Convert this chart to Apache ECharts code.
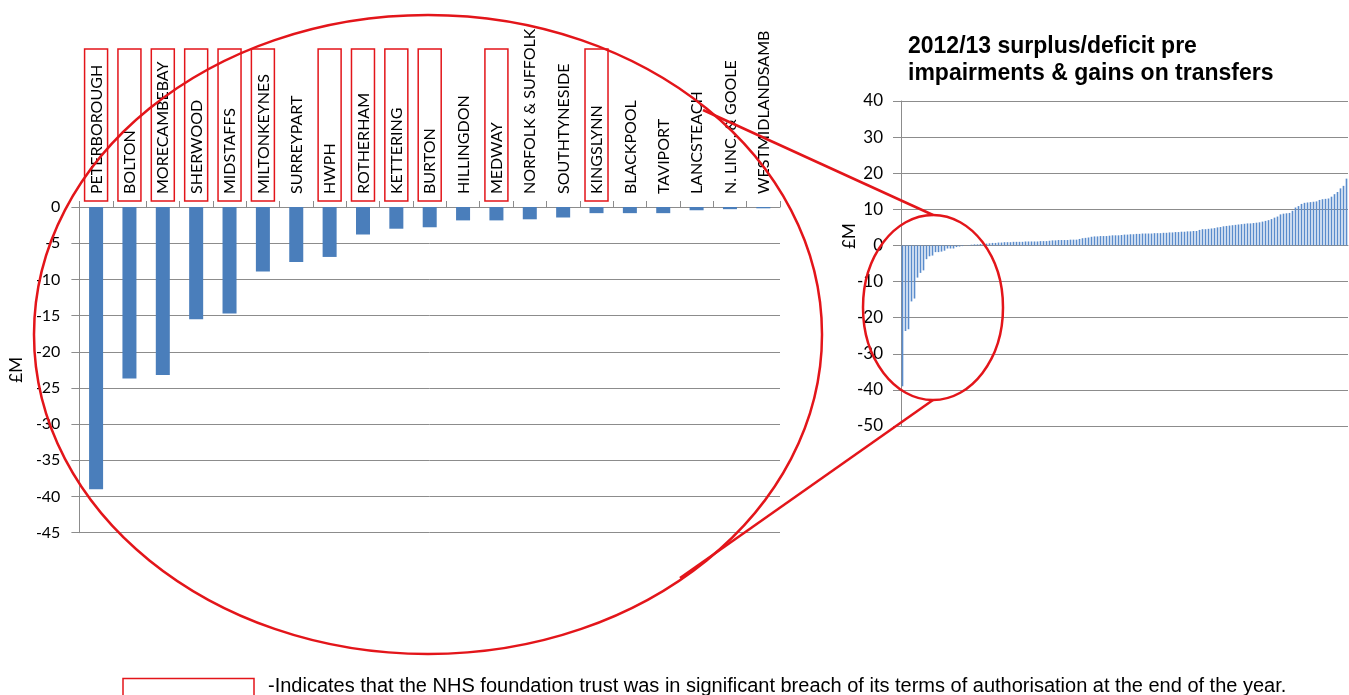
<!DOCTYPE html>
<html>
<head>
<meta charset="utf-8">
<script src="https://cdn.jsdelivr.net/npm/echarts@6/dist/echarts.min.js"></script>
<style>
html,body{margin:0;padding:0;background:#fff;}
#chart{width:1349px;height:695px;}
</style>
</head>
<body>
<div id="chart"></div>
<script>
// Left zoomed chart: trusts in deficit (£M)
var trusts = ['PETERBOROUGH','BOLTON','MORECAMBEBAY','SHERWOOD','MIDSTAFFS','MILTONKEYNES','SURREYPART','HWPH','ROTHERHAM','KETTERING','BURTON','HILLINGDON','MEDWAY','NORFOLK & SUFFOLK','SOUTHTYNESIDE','KINGSLYNN','BLACKPOOL','TAVIPORT','LANCSTEACH','N. LINC. & GOOLE','WESTMIDLANDSAMB'];
var deficits = [-39.0,-23.7,-23.2,-15.5,-14.7,-8.9,-7.6,-6.9,-3.8,-3.0,-2.8,-1.85,-1.85,-1.7,-1.45,-0.85,-0.85,-0.85,-0.45,-0.3,-0.18];
var breach = [true,true,true,true,true,true,false,true,true,true,true,false,true,false,false,true,false,false,false,false,false];
// Right chart: remaining trusts (break-even and surpluses, £M)
var breakEven = [0];
var surpluses = [0.1,0.2,0.3,0.3,0.4,0.5,0.5,
  0.6,0.7,0.7,0.8,0.8,0.9,0.9,0.9,
  1.0,1.0,1.0,1.0,1.1,1.1,1.1,1.1,1.1,1.2,1.2,1.2,1.3,
  1.4,1.4,1.5,1.5,1.5,1.5,1.6,1.6,1.6,
  1.8,2.0,2.1,2.2,
  2.4,2.5,2.5,2.6,2.6,2.6,
  2.7,2.8,2.8,2.8,2.9,
  3.0,3.0,3.1,3.1,3.2,3.2,3.3,3.3,3.3,3.3,3.4,3.4,3.4,3.5,
  3.5,3.6,3.6,3.7,3.7,3.8,3.8,3.9,3.9,4.0,4.0,
  4.3,4.5,4.5,4.6,4.7,4.8,5.0,
  5.1,5.3,5.4,5.5,5.6,5.7,
  5.8,5.9,6.0,6.1,6.1,6.2,6.3,6.4,6.6,
  6.8,7.0,7.3,7.7,
  8.0,8.6,8.8,8.9,9.0,
  9.6,10.5,
  10.9,11.5,11.8,11.9,
  12.0,12.1,12.2,12.6,
  12.8,12.9,13.0,
  13.5,14.2,14.8,
  15.8,16.5,
  18.5];
var leftTicks = [0,-5,-10,-15,-20,-25,-30,-35,-40,-45];
var rightTicks = [40,30,20,10,0,-10,-20,-30,-40,-50];
var titleText = '2012/13 surplus/deficit pre\nimpairments & gains on transfers';
var noteText = '-Indicates that the NHS foundation trust was in significant breach of its terms of authorisation at the end of the year.';

var allValues = deficits.concat(breakEven, surpluses);
var allCats = allValues.map(function(v, i){ return 'T' + (i + 1); });

var RED = '#e3151a';
var GRID = '#8c8c8c';
var BLUE = '#4a7ebb';
var labelFont = 'Lato, "Open Sans", sans-serif';

var chart = echarts.init(document.getElementById('chart'), null, {renderer:'canvas'});
chart.setOption({
  animation: false,
  backgroundColor: '#fff',
  title: {
    text: titleText,
    left: 903, top: 28,
    textStyle: {fontFamily:'"Liberation Sans", Arial, sans-serif', fontWeight:'bold', fontSize:23, lineHeight:27, color:'#000'}
  },
  grid: [
    {left:76, top:207, width:704, height:325.7},
    {left:901, top:101, width:447, height:325}
  ],
  xAxis: [
    {
      type:'category', gridIndex:0, position:'top', data: trusts,
      axisLine:{show:true, lineStyle:{color:GRID, width:1}},
      axisTick:{show:true, length:6, lineStyle:{color:GRID}},
      axisLabel:{
        interval:0, rotate:90, margin:6,
        formatter: function(v, i){ return (breach[i] ? '{b|' : '{n|') + v + '}'; },
        rich:{
          b:{fontFamily:labelFont, fontSize:16, color:'#000', lineHeight:16, width:140, padding:[4,5,3,7], borderColor:RED, borderWidth:1.5},
          n:{fontFamily:labelFont, fontSize:16, color:'#000', lineHeight:16, padding:[4,5,3,7]}
        }
      }
    },
    {
      type:'category', gridIndex:1, data: allCats,
      axisLine:{show:true, onZero:true, lineStyle:{color:GRID}},
      axisTick:{show:false}, axisLabel:{show:false}
    }
  ],
  yAxis: [
    {
      type:'value', gridIndex:0, min:-45, max:0, interval:5,
      name:'£M', nameLocation:'middle', nameGap:29,
      nameTextStyle:{fontFamily:labelFont, fontSize:17, color:'#000'},
      axisLine:{show:true, lineStyle:{color:GRID}},
      axisTick:{show:true, length:8, lineStyle:{color:GRID}},
      axisLabel:{fontFamily:labelFont, fontSize:16, color:'#000', margin:19,
        formatter:function(v){ return leftTicks.indexOf(v) >= 0 ? String(v) : ''; }},
      splitLine:{show:true, lineStyle:{color:GRID, width:1}}
    },
    {
      type:'value', gridIndex:1, min:-50, max:40, interval:10,
      axisLine:{show:true, lineStyle:{color:GRID}},
      axisTick:{show:true, length:8, lineStyle:{color:GRID}},
      axisLabel:{fontFamily:labelFont, fontSize:17, color:'#000', margin:18,
        formatter:function(v){ return rightTicks.indexOf(v) >= 0 ? String(v) : ''; }},
      splitLine:{show:true, lineStyle:{color:GRID, width:1}}
    }
  ],
  series: [
    {type:'bar', xAxisIndex:0, yAxisIndex:0, data:deficits, barWidth:'42%', itemStyle:{color:BLUE}},
    {type:'bar', xAxisIndex:1, yAxisIndex:1, data:allValues, barWidth:'55%', itemStyle:{color:'#5a8ccc'}}
  ],
  graphic: [
    {type:'ellipse', z:100, shape:{cx:428, cy:334.5, rx:394, ry:319.5}, style:{fill:'none', stroke:RED, lineWidth:2.5}},
    {type:'ellipse', z:100, shape:{cx:933, cy:307.5, rx:70, ry:92.5}, style:{fill:'none', stroke:RED, lineWidth:2.5}},
    {type:'line', z:100, shape:{x1:703, y1:110, x2:933, y2:215}, style:{stroke:RED, lineWidth:2.5}},
    {type:'line', z:100, shape:{x1:680, y1:578, x2:933, y2:400}, style:{stroke:RED, lineWidth:2.5}},
    {type:'text', z:100, x:850, y:236, rotation:Math.PI/2,
      style:{text:'£M', fontFamily:labelFont, fontSize:17, fill:'#000', align:'center', verticalAlign:'middle'}},
    {type:'rect', z:100, shape:{x:123, y:678.5, width:131, height:30}, style:{fill:'none', stroke:RED, lineWidth:1.5}},
    {type:'text', z:100, x:268, y:686,
      style:{text:noteText, fontFamily:'"Liberation Sans", Arial, sans-serif', fontSize:20, fill:'#000', align:'left', verticalAlign:'middle'}}
  ]
});
</script>
</body>
</html>
